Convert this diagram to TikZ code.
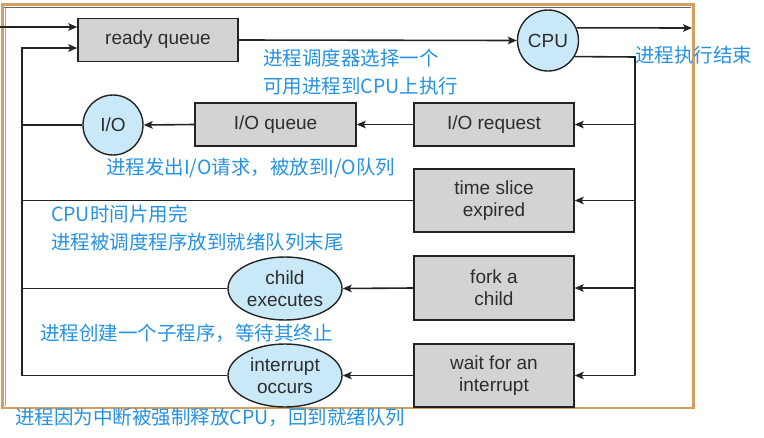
\documentclass[tikz,border=0pt]{standalone}
\usepackage{fontspec}
\setmainfont{Liberation Sans}
\newfontfamily\cjk{Noto Sans CJK SC}
\usetikzlibrary{shapes.geometric,arrows.meta}
\definecolor{boxfill}{RGB}{210,211,213}
\definecolor{bluefill}{RGB}{202,233,248}
\definecolor{note}{RGB}{38,146,228}
\definecolor{frame}{RGB}{214,160,92}
\definecolor{ink}{RGB}{35,35,35}
\definecolor{txt}{RGB}{45,45,45}
\tikzset{
  qbox/.style={draw=ink, fill=boxfill, line width=1.4pt, rectangle, inner sep=0pt,
    minimum width=160pt, font=\fontsize{19}{22}\selectfont, text=txt, align=center},
  rnd/.style={draw=ink, fill=bluefill, line width=1.4pt, circle, inner sep=0pt,
    minimum size=61pt, font=\fontsize{19}{22}\selectfont, text=txt},
  ell/.style={draw=ink, fill=bluefill, line width=1.4pt, ellipse, inner sep=0pt,
    minimum width=114pt, minimum height=63pt, font=\fontsize{19}{22}\selectfont, text=txt, align=center},
  conn/.style={draw=ink, line width=1.6pt},
  arr/.style={conn, -{Stealth[length=9pt,width=7.5pt,inset=2pt]}},
  notetext/.style={text=note, font=\cjk\fontsize{19.5}{28.5}\selectfont, align=left, anchor=west, inner sep=0pt}
}
\begin{document}
\begin{tikzpicture}[x={(1pt,0)}, y={(0,-1pt)}]
\useasboundingbox (0,0) rectangle (764,437);
\fill[white] (0,0) rectangle (764,437);
% frame
\draw[frame, line width=2.2pt] (2.5,4.5) rectangle (693.5,408);
\draw[ink!70, line width=0.9pt] (4,7.5) -- (691,7.5);
\draw[ink!40, line width=0.6pt] (5,8) -- (5,406);

% nodes
\node[qbox, minimum height=43pt] (rq) at (158,40) {ready queue};
\node[rnd] (cpu) at (548,40.5) {CPU};
\node[qbox, minimum height=43pt] (iorq) at (494,124.5) {I/O request};
\node[qbox, minimum height=43pt, minimum width=161pt] (ioq) at (275.5,124.5) {I/O queue};
\node[rnd, minimum size=60pt] (io) at (113,125) {I/O};
\node[qbox, minimum height=63pt] (ts) at (494,200.5) {time slice\\expired};
\node[qbox, minimum height=64pt] (fork) at (494,288) {fork a\\child};
\node[ell] (child) at (285,288.5) {child\\executes};
\node[qbox, minimum height=63pt] (wait) at (494,375.5) {wait for an\\interrupt};
\node[ell] (intr) at (285,375.5) {interrupt\\occurs};

% coordinates
\coordinate (inL) at (0,27);
\coordinate (Ltop) at (22,48);
\coordinate (Lbot) at (22,375.5);
\coordinate (Rtop) at (635,57);
\coordinate (Rbot) at (635,375.5);
\coordinate (out) at (692,28);

% connectors
\draw[arr] (inL) -- (rq.west |- inL);
\draw[arr] (Lbot) -- (Ltop) -- (rq.west |- Ltop);
\draw[arr] (rq.east) -- (cpu.west);
\draw[arr] (cpu.24.5) -- (out);
\draw[conn] (cpu.-31) -- (Rtop) -- (Rbot);
\draw[arr] (Rtop |- iorq.east) -- (iorq.east);
\draw[arr] (Rtop |- ts.east) -- (ts.east);
\draw[arr] (Rtop |- fork.east) -- (fork.east);
\draw[arr] (Rbot) -- (wait.east);
\draw[arr] (iorq.west) -- (ioq.east);
\draw[arr] (ioq.west) -- (io.east);
\draw[conn] (io.west) -- (io.west -| Ltop);
\draw[conn] (ts.west) -- (ts.west -| Ltop);
\draw[arr] (fork.west) -- (child.east);
\draw[conn] (child.west) -- (child.west -| Ltop);
\draw[arr] (wait.west) -- (intr.east);
\draw[conn] (intr.west) -- (Lbot);

% notes
\node[notetext] (n1) at (263,72) {进程调度器选择一个\\可用进程到CPU上执行};
\node[notetext] (n2) at (635,55) {进程执行结束};
\node[notetext] (n3) at (106,168) {进程发出I/O请求，被放到I/O队列};
\node[notetext] (n4) at (51,228) {CPU时间片用完\\进程被调度程序放到就绪队列末尾};
\node[notetext] (n5) at (40,333) {进程创建一个子程序，等待其终止};
\node[notetext] (n6) at (15,417) {进程因为中断被强制释放CPU，回到就绪队列};
\end{tikzpicture}
\end{document}
